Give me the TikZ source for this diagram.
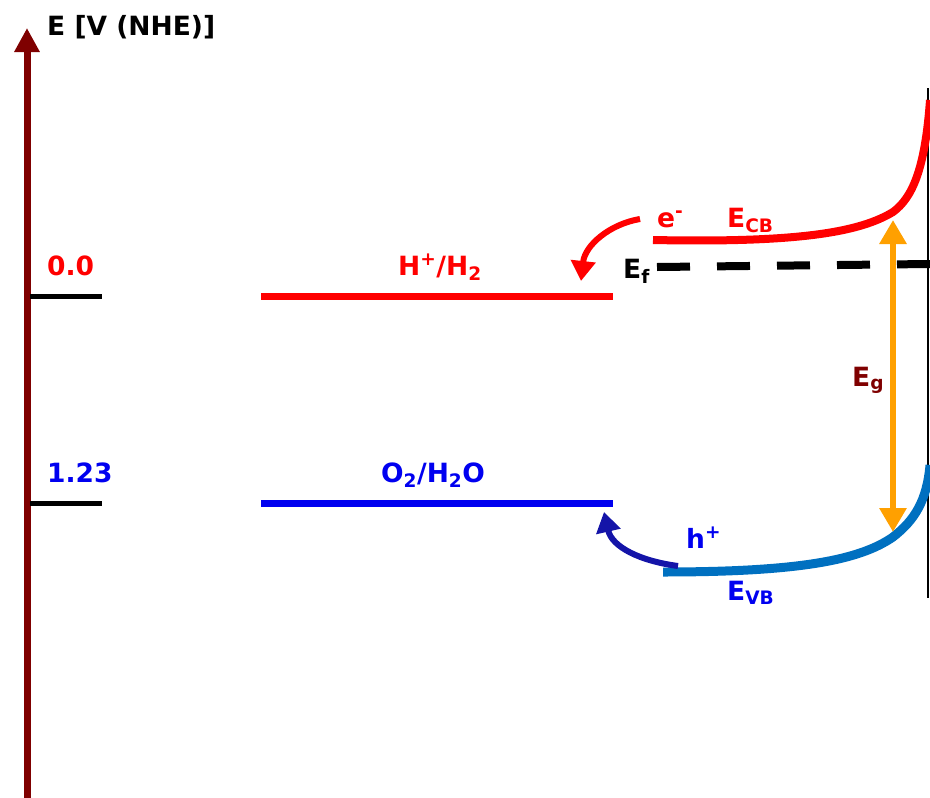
\documentclass[tikz,border=0pt]{standalone}
\usepackage{fontspec}
\setmainfont{DejaVu Sans}
\usetikzlibrary{arrows.meta}
\definecolor{axisred}{HTML}{7F0000}
\definecolor{hred}{HTML}{FF0000}
\definecolor{oblue}{HTML}{0000F0}
\definecolor{vbblue}{HTML}{0070C0}
\definecolor{hblue}{HTML}{1414A8}
\definecolor{gaporange}{HTML}{FFA000}
\tikzset{
  lbl/.style={inner sep=0pt, anchor=base west, font=\fontsize{26.5}{31}\selectfont\bfseries},
  tick/.style={line width=5pt, black},
  level/.style={line width=7pt},
  band/.style={line width=9pt},
}
\begin{document}
\begin{tikzpicture}[x=1pt,y=-1pt]
\useasboundingbox (0,0) rectangle (930,798);
% axis
\coordinate (axb) at (27,798);
\coordinate (axt) at (27,28);
\draw[axisred, line width=7pt, -{Triangle[width=24pt,length=24pt]}] (axb) -- (axt);
\node[lbl] (title) at (47,35) {E [V (NHE)]};
% ticks
\coordinate (t0a) at (30,296); \coordinate (t0b) at (102,296);
\coordinate (t1a) at (30,503); \coordinate (t1b) at (102,503);
\draw[tick] (t0a) -- (t0b);
\draw[tick] (t1a) -- (t1b);
\node[lbl, text=hred] (v0) at (47,275) {0.0};
\node[lbl, text=oblue] (v1) at (47,482) {1.23};
% redox levels
\coordinate (h2a) at (261,296); \coordinate (h2b) at (613,296);
\coordinate (o2a) at (261,503); \coordinate (o2b) at (613,503);
\draw[level, hred] (h2a) -- (h2b);
\draw[level, oblue] (o2a) -- (o2b);
\node[lbl, text=hred] (hlab) at (398,275) {H\textsuperscript{+}/H\textsubscript{2}};
\node[lbl, text=oblue] (olab) at (381,482) {O\textsubscript{2}/H\textsubscript{2}O};
% electrode surface
\coordinate (sa) at (928,88); \coordinate (sb) at (928,598);
\draw[black, line width=2.5pt] (sa) -- (sb);
% Fermi level
\coordinate (efa) at (657,267); \coordinate (efb) at (930,264);
\draw[black, line width=8pt, dash pattern=on 33pt off 27pt] (efa) -- (efb);
\node[lbl, text=black] (ef) at (623,278) {E\textsubscript{f}};
% conduction band
\coordinate (cba) at (653,240);
\coordinate (cbm) at (893,212);
\coordinate (cbb) at (930,100);
\draw[band, hred, line width=8pt] (cba) .. controls (800,243) and (860,232) .. (cbm)
  .. controls (912,198) and (925,170) .. (cbb);
% valence band
\coordinate (vba) at (663,572);
\coordinate (vbm) at (893,537);
\coordinate (vbb) at (930,465);
\draw[band, vbblue] (vba) .. controls (800,572) and (860,560) .. (vbm)
  .. controls (915,520) and (927,500) .. (vbb);
% band gap arrow
\coordinate (ga) at (893,220); \coordinate (gb) at (893,532);
\draw[gaporange, line width=6pt, {Triangle[width=26pt,length=24pt]}-{Triangle[width=26pt,length=24pt]}] (ga) -- (gb);
\node[lbl, text=axisred] (eg) at (852,386) {E\textsubscript{g}};
% labels
\node[lbl, text=hred] (elab) at (657,227) {e\textsuperscript{-}};
\node[lbl, text=hred] (ecb) at (727,227) {E\textsubscript{CB}};
\node[lbl, text=oblue] (hplab) at (686,548) {h\textsuperscript{+}};
\node[lbl, text=oblue] (evb) at (727,600) {E\textsubscript{VB}};
% transfer arrows
\coordinate (ea) at (640,219); \coordinate (eb) at (581,281);
\draw[hred, line width=6pt, -{Triangle[width=24pt,length=20pt]}] (ea) .. controls (610,224) and (585,245) .. (eb);
\coordinate (ha) at (678,566); \coordinate (hb) at (604,512);
\draw[hblue, line width=6pt, -{Triangle[width=24pt,length=20pt]}] (ha) .. controls (640,561) and (612,547) .. (hb);
\end{tikzpicture}
\end{document}
